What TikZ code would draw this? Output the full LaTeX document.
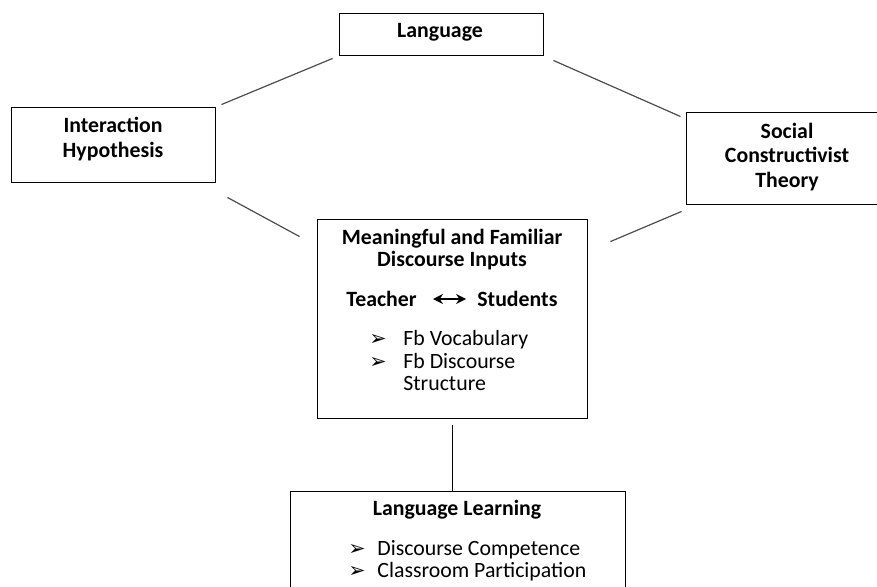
\documentclass[tikz,border=0pt]{standalone}
\usepackage{fontspec}
\setmainfont{Carlito}
\newfontfamily\symfont{DejaVu Sans}[Scale=0.95]
\usetikzlibrary{arrows.meta, positioning}
\newdimen\px \px=0.55pt
\newcommand\bul[1]{\makebox[#1][l]{\symfont ➢}}

\begin{document}
\begin{tikzpicture}[
    x=0.55pt, y=-0.55pt,
    font=\fontsize{12}{12.3}\selectfont,
    every node/.style={inner sep=0pt},
    box/.style={draw, line width=0.9\px},
    head/.style={font=\fontsize{12}{13.3}\selectfont\bfseries, align=center},
    pair/.style={head, text height=8.5pt, text depth=0pt},
    items/.style={align=left},
    link/.style={draw=black!70, line width=1.2\px},
    arrow/.style={{Stealth[length=5.5pt,width=5.5pt]}-{Stealth[length=5.5pt,width=5.5pt]}, line width=1.1pt}
]
\useasboundingbox (0,0) rectangle (877,586);
\clip (0,0) rectangle (877,586);

% Boxes
\node[box, minimum width=204\px, minimum height=42\px] (LA) at (441,34) {};
\node[box, minimum width=204\px, minimum height=75\px] (IH) at (113,144.5) {};
\node[box, minimum width=204\px, minimum height=92\px] (SC) at (788,158) {};
\node[box, minimum width=270\px, minimum height=199\px] (MD) at (452,318.5) {};
\node[box, minimum width=335\px, minimum height=120\px, anchor=north] (LL) at (457.5,491) {};

% Texts
\node[head] (LAt) at (440,32) {Language};
\node[head] (IHt) at (113,139) {Interaction\\Hypothesis};
\node[head] (SCt) at (787,157) {Social\\Constructivist\\Theory};
\node[head, font=\fontsize{12}{12.1}\selectfont\bfseries] (MDt) at (452,250) {Meaningful and Familiar\\Discourse Inputs};
\node[pair, anchor=east] (TE) at (417,299) {Teacher};
\node[pair, anchor=west] (ST) at (477,299) {Students};
\node[items, anchor=north west, font=\fontsize{12}{12.5}\selectfont] (MDb) at (369,329) {%
  \begin{tabular}{@{}l@{}l@{}}
  \bul{18.7pt} & Fb Vocabulary\\
  \bul{18.7pt} & Fb Discourse\\
               & Structure
  \end{tabular}};
\node[head] (LLt) at (457,510) {Language Learning};
\node[items, anchor=north west] (LLb) at (348,539) {%
  \begin{tabular}{@{}l@{}l@{}}
  \bul{16pt} & Discourse Competence\\
  \bul{16pt} & Classroom Participation
  \end{tabular}};

% Connectors
\draw[arrow, shorten <=8.8pt, shorten >=6pt] (TE) -- (ST);
\draw[link] ([shift={(6,-2)}]IH.north east) -- ([shift={(-6,3)}]LA.south west);
\draw[link] ([shift={(10,5)}]LA.south east) -- ([shift={(-5,5)}]SC.north west);
\draw[link] ([shift={(12,15)}]IH.south east) -- ([shift={(-17,18)}]MD.north west);
\draw[link] ([shift={(-4,7)}]SC.south west) -- ([shift={(23,23)}]MD.north east);
\draw[box] ([shift={(0,7)}]MD.south) -- (MD.south |- LL.north);

\end{tikzpicture}
\end{document}
